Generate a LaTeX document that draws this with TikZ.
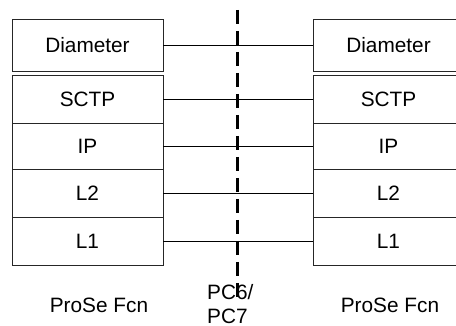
\documentclass[tikz,border=0pt]{standalone}
\usepackage{fontspec}
\setmainfont{Liberation Sans}
\begin{document}
\begin{tikzpicture}[x=1pt,y=-1pt,
  layer/.style={draw=black!85,line width=0.9pt,rectangle,inner sep=0pt,
    font=\fontsize{20.8}{24}\selectfont},
  link/.style={draw=black,line width=0.9pt},
  iface/.style={draw=black,line width=3pt,dash pattern=on 14pt off 7pt},
  lbl/.style={font=\fontsize{20.8}{24}\selectfont,inner sep=0pt}]
\useasboundingbox (0,0) rectangle (456,326);
\clip (0,0) rectangle (456,326);
% left stack
\node[layer,minimum width=151pt,minimum height=52pt] (ldia) at (87.5,45) {Diameter};
\node[layer,minimum width=151pt,minimum height=48pt] (lsctp) at (87.5,99) {SCTP};
\node[layer,minimum width=151pt,minimum height=46pt] (lip) at (87.5,146) {IP};
\node[layer,minimum width=151pt,minimum height=48pt] (ll2) at (87.5,193) {L2};
\node[layer,minimum width=151pt,minimum height=48pt] (ll1) at (87.5,241) {L1};
% right stack
\node[layer,minimum width=151pt,minimum height=52pt] (rdia) at (388.5,45) {Diameter};
\node[layer,minimum width=151pt,minimum height=48pt] (rsctp) at (388.5,99) {SCTP};
\node[layer,minimum width=151pt,minimum height=46pt] (rip) at (388.5,146) {IP};
\node[layer,minimum width=151pt,minimum height=48pt] (rl2) at (388.5,193) {L2};
\node[layer,minimum width=151pt,minimum height=48pt] (rl1) at (388.5,241) {L1};
% connectors
\draw[link] (ldia.east) -- (rdia.west);
\draw[link] (lsctp.east) -- (rsctp.west);
\draw[link] (lip.east) -- (rip.west);
\draw[link] (ll2.east) -- (rl2.west);
\draw[link] (ll1.east) -- (rl1.west);
% reference point line
\coordinate (ptop) at (237,10);
\coordinate (pbot) at (237,297);
\draw[iface] (ptop) -- (pbot);
% labels
\node[lbl] (lfcn) at (99,305) {ProSe Fcn};
\node[lbl] (rfcn) at (390,305) {ProSe Fcn};
\node[lbl,anchor=west] (pc6) at (207,292) {PC6/};
\node[lbl,anchor=west] (pc7) at (207,316) {PC7};
\end{tikzpicture}
\end{document}
